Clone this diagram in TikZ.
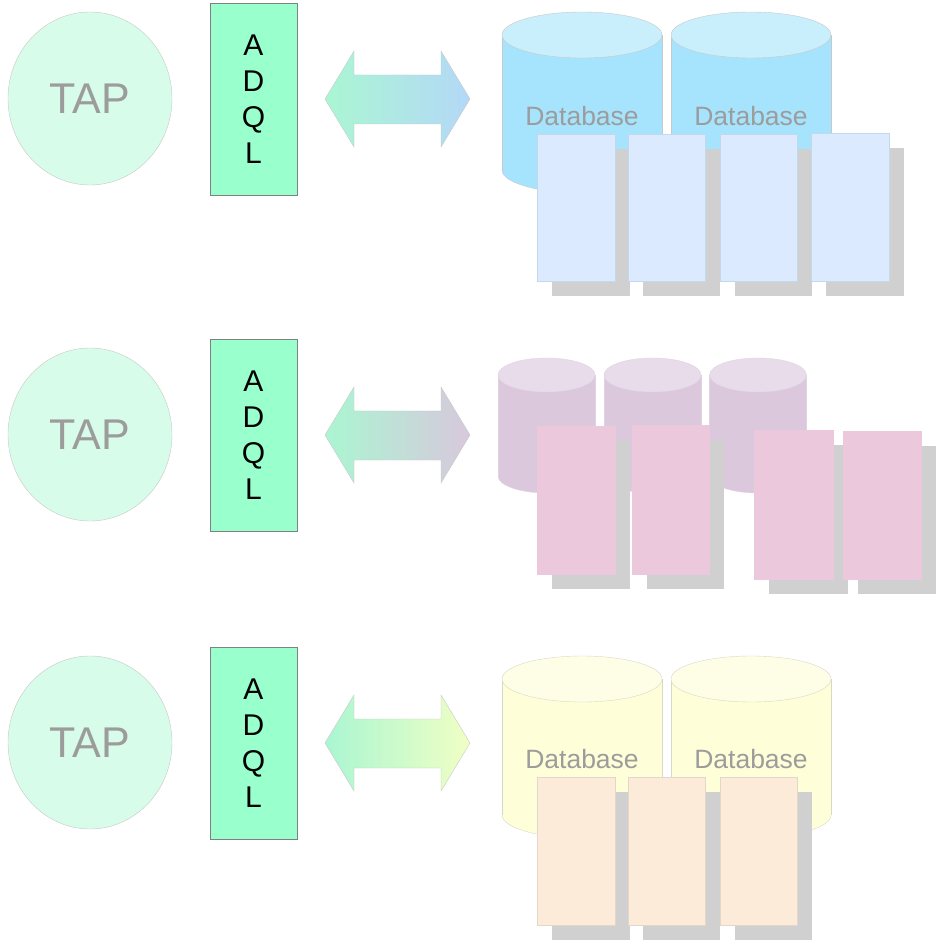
\documentclass[tikz,border=0pt]{standalone}
\usepackage{fontspec}
\setmainfont{Liberation Sans}
\usepackage{xcolor}
\usepackage{tikz}
\usetikzlibrary{shapes.geometric}
\definecolor{tapfill}{HTML}{D8FCEA}
\definecolor{adqlfill}{HTML}{99FFCC}
\definecolor{softgray}{HTML}{9C9C9C}
\definecolor{edgegray}{HTML}{C8C8C8}
\definecolor{shadowgray}{HTML}{D0D0D0}
\definecolor{arrowmint}{HTML}{AAF6D2}
\definecolor{bluetip}{HTML}{B4D8F8}
\definecolor{mauvetip}{HTML}{D8C8DC}
\definecolor{limetip}{HTML}{F0FFC4}
\definecolor{blueside}{HTML}{A6E4FD}
\definecolor{bluetop}{HTML}{C9EEFC}
\definecolor{bluepage}{HTML}{DBEAFE}
\definecolor{blueedge}{HTML}{C4D8EC}
\definecolor{mauveside}{HTML}{DCC8DC}
\definecolor{mauvetop}{HTML}{E8DCEA}
\definecolor{mauveedge}{HTML}{E0D4E2}
\definecolor{pinkpage}{HTML}{ECC8DC}
\definecolor{creamside}{HTML}{FEFED8}
\definecolor{creamtop}{HTML}{FEFEE6}
\definecolor{creamedge}{HTML}{D8D8C8}
\definecolor{peachpage}{HTML}{FDEBD9}
\definecolor{peachedge}{HTML}{E4D6C8}

\begin{document}
\begin{tikzpicture}[x=1pt,y=-1pt,
  tapnode/.style={ellipse,draw=edgegray,fill=tapfill,minimum width=164pt,minimum height=173pt,inner sep=0pt,text=softgray,font=\fontsize{43pt}{43pt}\selectfont},
  adqlbox/.style={rectangle,draw=gray,fill=adqlfill,minimum width=87pt,minimum height=192pt,align=center,font=\fontsize{30pt}{36pt}\selectfont},
  dblabel/.style={text=softgray,font=\fontsize{26.5pt}{27pt}\selectfont}]
  \useasboundingbox (0,0) rectangle (943,941);
  % TAP, ADQL and the double arrow of each row
  \foreach \r/\dy/\tipcol in {1/0/bluetip,2/336/mauvetip,3/644/limetip}{
    \node[tapnode] (tap\r) at (90,98.5+\dy) {TAP};
    \node[adqlbox] (adql\r) at (253.5,99+\dy) {A\\D\\Q\\L};
    \shade[left color=arrowmint,right color=\tipcol,draw=edgegray]
      (325,99+\dy) -- (354,51+\dy) -- (354,75+\dy) -- (441,75+\dy) -- (441,51+\dy)
      -- (470,99+\dy) -- (441,147+\dy) -- (441,124+\dy) -- (354,124+\dy) -- (354,147+\dy) -- cycle;
  }
  % cylinders
  \foreach \cx/\ty/\by/\rx/\ry/\side/\top/\edge in {
      582/35/170/80/23/blueside/bluetop/edgegray, 751/35/170/80/23/blueside/bluetop/edgegray,
      546.5/375/476/48.5/17/mauveside/mauvetop/mauveedge, 652.5/375/476/48.5/17/mauveside/mauvetop/mauveedge,
      758/375/476/48.5/17/mauveside/mauvetop/mauveedge,
      582/679/815/80/23/creamside/creamtop/creamedge, 751/679/815/80/23/creamside/creamtop/creamedge}{
    \filldraw[fill=\side,draw=\edge] (\cx,\by) ellipse [x radius=\rx,y radius=\ry];
    \fill[\side] (\cx-\rx,\ty) rectangle (\cx+\rx,\by);
    \draw[\edge] (\cx-\rx,\ty) -- (\cx-\rx,\by) (\cx+\rx,\ty) -- (\cx+\rx,\by);
    \filldraw[fill=\top,draw=\edge] (\cx,\ty) ellipse [x radius=\rx,y radius=\ry];
  }
  \node[dblabel] (db1) at (582,116) {Database};
  \node[dblabel] (db2) at (751,116) {Database};
  \node[dblabel] (db3) at (582,759) {Database};
  \node[dblabel] (db4) at (751,759) {Database};
  % pages with their shadows
  \foreach \xa/\ya/\xb/\yb/\pcol/\pedge in {
      537/134/615/281/bluepage/blueedge, 628/134/705/281/bluepage/blueedge,
      720/134/797/281/bluepage/blueedge, 811/133/889/281/bluepage/blueedge,
      537/426/615/574/pinkpage/pinkpage, 632/425/709/574/pinkpage/pinkpage,
      754/430/833/579/pinkpage/pinkpage, 843/431/921/579/pinkpage/pinkpage,
      537/777/615/925/peachpage/peachedge, 628/777/705/925/peachpage/peachedge,
      720/777/797/925/peachpage/peachedge}{
    \fill[shadowgray] (\xa+15,\ya+15) rectangle (\xb+15,\yb+15);
    \filldraw[fill=\pcol,draw=\pedge] (\xa,\ya) rectangle (\xb,\yb);
  }
\end{tikzpicture}
\end{document}
